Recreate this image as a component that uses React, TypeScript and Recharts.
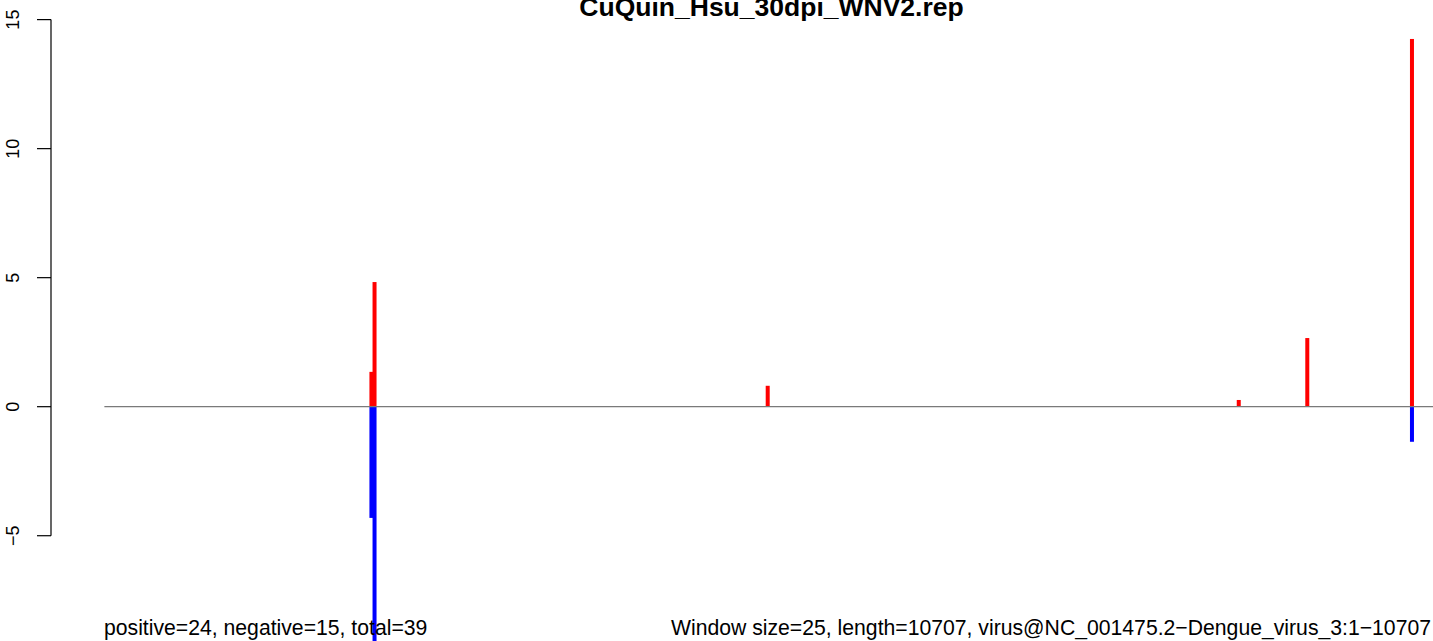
import { ComposedChart, Bar, XAxis, YAxis, ReferenceLine } from "recharts";

// window start positions along the genome (nt)
const positions = [2145, 2170, 5325, 9105, 9655, 10495];
const positiveScores = [1.35, 4.83, 0.81, 0.26, 2.66, 14.25];
const negativeScores = [-4.31, -9.5, 0, 0, 0, -1.36];
const yTicks = [-5, 0, 5, 10, 15];

const genomeLength = 10707;
const xPad = genomeLength * 0.04;

const data = positions.map((pos, i) => ({
  pos,
  positive: positiveScores[i],
  negative: negativeScores[i],
}));

const FONT = "'Liberation Sans', Arial, Helvetica, sans-serif";

// fixed-width stroke centred on the slot recharts computes
const Stick = (props: any) => {
  const { x, y, width, height, fill } = props;
  if (!height) return null;
  const cx = x + width / 2;
  const top = Math.min(y, y + height);
  return <rect x={cx - 2} y={top} width={4} height={Math.abs(height)} fill={fill} />;
};

const YTick = (props: any) => {
  const { y, payload } = props;
  const v = payload.value;
  const label = v < 0 ? "\u2212" + Math.abs(v) : String(v);
  return (
    <g>
      <line x1={37} x2={51} y1={y} y2={y} stroke="#000" strokeWidth={1.2} />
      <text
        x={19}
        y={y}
        transform={`rotate(-90, 19, ${y})`}
        textAnchor="middle"
        fontSize={18}
        fontFamily={FONT}
        fill="#000"
      >
        {label}
      </text>
    </g>
  );
};

export default function App() {
  return (
    <div
      style={{
        position: "absolute",
        left: 0,
        top: 0,
        width: 1433,
        height: 641,
        overflow: "hidden",
        background: "#fff",
      }}
    >
      <ComposedChart
        width={1500}
        height={641}
        data={data}
        stackOffset="sign"
        margin={{ top: 0, right: 8, bottom: 0, left: 0 }}
      >
        <XAxis
          type="number"
          dataKey="pos"
          domain={[-xPad, genomeLength + xPad]}
          allowDataOverflow
          hide
        />
        <YAxis
          type="number"
          domain={[-9.08, 15.76]}
          ticks={yTicks}
          allowDataOverflow
          width={51}
          axisLine={false}
          tickLine={false}
          tick={<YTick />}
          interval={0}
        />
        <ReferenceLine
          segment={[
            { x: -xPad, y: -5 },
            { x: -xPad, y: 15 },
          ]}
          stroke="#000"
          strokeWidth={1.2}
          ifOverflow="visible"
        />
        <Bar dataKey="positive" stackId="s" fill="#ff0000" shape={<Stick />} isAnimationActive={false} />
        <Bar dataKey="negative" stackId="s" fill="#0000ff" shape={<Stick />} isAnimationActive={false} />
        <ReferenceLine
          segment={[
            { x: 0, y: 0 },
            { x: genomeLength, y: 0 },
          ]}
          stroke="#7a7a7a"
          strokeWidth={1.2}
          ifOverflow="visible"
        />
      </ComposedChart>
      <svg
        width={1433}
        height={641}
        style={{ position: "absolute", left: 0, top: 0, pointerEvents: "none" }}
      >
        <text
          x={771.5}
          y={15.5}
          textAnchor="middle"
          fontSize={26.5}
          fontWeight="bold"
          fontFamily={FONT}
          fill="#000"
        >
          CuQuin_Hsu_30dpi_WNV2.rep
        </text>
        <text x={104} y={635} fontSize={21.2} fontFamily={FONT} fill="#000">
          positive=24, negative=15, total=39
        </text>
        <text x={1431} y={635} textAnchor="end" fontSize={21.2} fontFamily={FONT} fill="#000">
          Window size=25, length=10707, virus@NC_001475.2−Dengue_virus_3:1−10707
        </text>
      </svg>
    </div>
  );
}
